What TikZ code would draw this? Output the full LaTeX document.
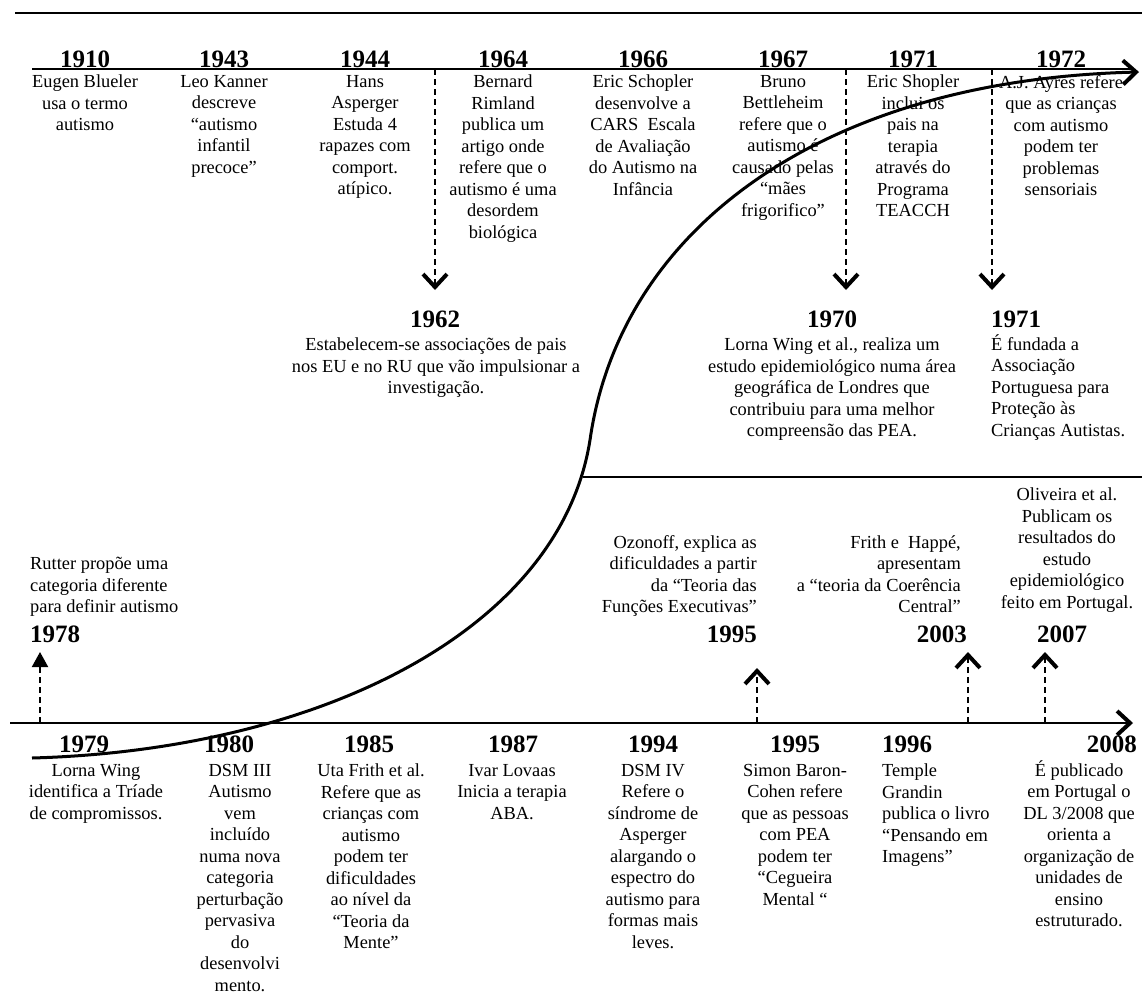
\documentclass[tikz,border=0pt]{standalone}
\usepackage{fontspec}
\setmainfont{Liberation Serif}
\usetikzlibrary{arrows.meta}
\begin{document}
\begin{tikzpicture}[x=1pt,y=-1pt,
  desc/.style={font=\fontsize{18.4}{21.5}\selectfont, inner sep=0pt, align=center, anchor=north},
  yr/.style={font=\fontsize{25}{29}\selectfont\bfseries, inner sep=0pt, anchor=base},
  axisline/.style={line width=2.5pt},
  dasharrow/.style={line width=2pt, dash pattern=on 6pt off 4pt, -{Straight Barb[length=13pt,width=24pt,line width=4pt]}},
  dashtri/.style={line width=2pt, dash pattern=on 6pt off 4pt, -{Triangle[length=15pt,width=16pt]}},
]
\useasboundingbox (0,0) rectangle (1142,1001);
\fill[white] (0,0) rectangle (1142,1001);

% header line
\coordinate (hl) at (15,13);
\coordinate (hr) at (1142,13);
\draw[line width=2pt] (hl) -- (hr);

% top axis
\coordinate (ta0) at (32,69);
\coordinate (ta1) at (1132,69);
\draw[axisline] (ta0) -- (ta1);

% middle line
\coordinate (ml0) at (583,477);
\coordinate (ml1) at (1142,477);
\draw[line width=2.5pt] (ml0) -- (ml1);

% bottom axis
\coordinate (ba0) at (10,723);
\coordinate (ba1) at (1133,723);
\draw[axisline, -{Straight Barb[length=13pt,width=24pt,line width=4pt]}] (ba0) -- (ba1);

% S curve
\coordinate (c0) at (32,758);
\coordinate (cm) at (590,440);
\coordinate (c1) at (1139,72);
\draw[line width=3pt, -{Straight Barb[length=13pt,width=24pt,line width=4pt]}]
  (c0) .. controls (320,750) and (560,630) .. (cm)
       .. controls (620,230) and (820,80) .. (c1);

% top years
\node[yr] (y1910) at (85,67) {1910};
\node[yr] (y1943) at (224,67) {1943};
\node[yr] (y1944) at (365,67) {1944};
\node[yr] (y1964) at (503,67) {1964};
\node[yr] (y1966) at (643,67) {1966};
\node[yr] (y1967) at (783,67) {1967};
\node[yr] (y1971) at (913,67) {1971};
\node[yr] (y1972) at (1061,67) {1972};

% top texts
\node[desc] (t1910) at (85,75) {Eugen Blueler\\usa o termo\\autismo};
\node[desc] (t1943) at (224,75) {Leo Kanner\\descreve\\“autismo\\infantil\\precoce”};
\node[desc] (t1944) at (365,75) {Hans\\Asperger\\Estuda 4\\rapazes com\\comport.\\atípico.};
\node[desc] (t1964) at (503,75) {Bernard\\Rimland\\publica um\\artigo onde\\refere que o\\autismo é uma\\desordem\\biológica};
\node[desc] (t1966) at (643,75) {Eric Schopler\\desenvolve a\\CARS~~Escala\\de Avaliação\\do Autismo na\\Infância};
\node[desc] (t1967) at (783,75) {Bruno\\Bettleheim\\refere que o\\autismo é\\causado pelas\\“mães\\frigorifico”};
\node[desc] (t1971) at (913,75) {Eric Shopler\\inclui os\\pais na\\terapia\\através do\\Programa\\TEACCH};
\node[desc] (t1972) at (1061,75) {A.J. Ayres refere\\que as crianças\\com autismo\\podem ter\\problemas\\sensoriais};

% top dashed arrows
\coordinate (da1) at (435,69);  \coordinate (da1e) at (435,290);
\coordinate (da2) at (846,69);  \coordinate (da2e) at (846,290);
\coordinate (da3) at (992,69);  \coordinate (da3e) at (992,290);
\draw[dasharrow] (da1) -- (da1e);
\draw[dasharrow] (da2) -- (da2e);
\draw[dasharrow] (da3) -- (da3e);

% middle upper events
\node[yr] (y1962) at (435,327) {1962};
\node[desc] (t1962) at (436,338) {Estabelecem-se associações de pais\\nos EU e no RU que vão impulsionar a\\investigação.};
\node[yr] (y1970) at (832,327) {1970};
\node[desc] (t1970) at (832,338) {Lorna Wing et al., realiza um\\estudo epidemiológico numa área\\geográfica de Londres que\\contribuiu para uma melhor\\compreensão das PEA.};
\node[yr, anchor=base west] (y1971b) at (991,327) {1971};
\node[desc, anchor=north west, align=left] (t1971b) at (991,334) {É fundada a\\Associação\\Portuguesa para\\Proteção às\\Crianças Autistas.};

% middle lower events
\node[desc, anchor=north west, align=left] (t1978) at (30,557) {Rutter propõe uma\\categoria diferente\\para definir autismo};
\node[yr, anchor=base west] (y1978) at (30,642) {1978};
\node[desc, anchor=north east, align=right] (t1995b) at (757,535) {Ozonoff, explica as\\dificuldades a partir\\da “Teoria das\\Funções Executivas”};
\node[yr, anchor=base east] (y1995b) at (757,642) {1995};
\node[desc, anchor=north east, align=right] (t2003) at (961,535) {Frith e~~Happé,\\apresentam\\a “teoria da Coerência\\Central”};
\node[yr, anchor=base east] (y2003) at (967,642) {2003};
\node[desc] (t2007) at (1067,488) {Oliveira et al.\\Publicam os\\resultados do\\estudo\\epidemiológico\\feito em Portugal.};
\node[yr] (y2007) at (1062,642) {2007};

% bottom dashed arrows (upward)
\coordinate (ua1) at (40,723);   \coordinate (ua1e) at (40,652);
\coordinate (ua2) at (757,723);  \coordinate (ua2e) at (757,668);
\coordinate (ua3) at (968,723);  \coordinate (ua3e) at (968,652);
\coordinate (ua4) at (1045,723); \coordinate (ua4e) at (1045,652);
\draw[dashtri] (ua1) -- (ua1e);
\draw[dasharrow] (ua2) -- (ua2e);
\draw[dasharrow] (ua3) -- (ua3e);
\draw[dasharrow] (ua4) -- (ua4e);

% bottom years
\node[yr] (y1979) at (84,752) {1979};
\node[yr] (y1980) at (229,752) {1980};
\node[yr] (y1985) at (369,752) {1985};
\node[yr] (y1987) at (513,752) {1987};
\node[yr] (y1994) at (653,752) {1994};
\node[yr] (y1995) at (795,752) {1995};
\node[yr, anchor=base west] (y1996) at (882,752) {1996};
\node[yr, anchor=base east] (y2008) at (1137,752) {2008};

% bottom texts
\node[desc] (t1979) at (96,764) {Lorna Wing\\identifica a Tríade\\de compromissos.};
\node[desc] (t1980) at (240,764) {DSM III\\Autismo\\vem\\incluído\\numa nova\\categoria\\perturbação\\pervasiva\\do\\desenvolvi\\mento.};
\node[desc] (t1985) at (371,764) {Uta Frith et al.\\Refere que as\\crianças com\\autismo\\podem ter\\dificuldades\\ao nível da\\“Teoria da\\Mente”};
\node[desc] (t1987) at (512,764) {Ivar Lovaas\\Inicia a terapia\\ABA.};
\node[desc] (t1994) at (653,764) {DSM IV\\Refere o\\síndrome de\\Asperger\\alargando o\\espectro do\\autismo para\\formas mais\\leves.};
\node[desc] (t1995) at (795,764) {Simon Baron-\\Cohen refere\\que as pessoas\\com PEA\\podem ter\\“Cegueira\\Mental “};
\node[desc, anchor=north west, align=left] (t1996) at (882,764) {Temple\\Grandin\\publica o livro\\“Pensando em\\Imagens”};
\node[desc] (t2008) at (1079,760) {É publicado\\em Portugal o\\DL 3/2008 que\\orienta a\\organização de\\unidades de\\ensino\\estruturado.};
\end{tikzpicture}
\end{document}
